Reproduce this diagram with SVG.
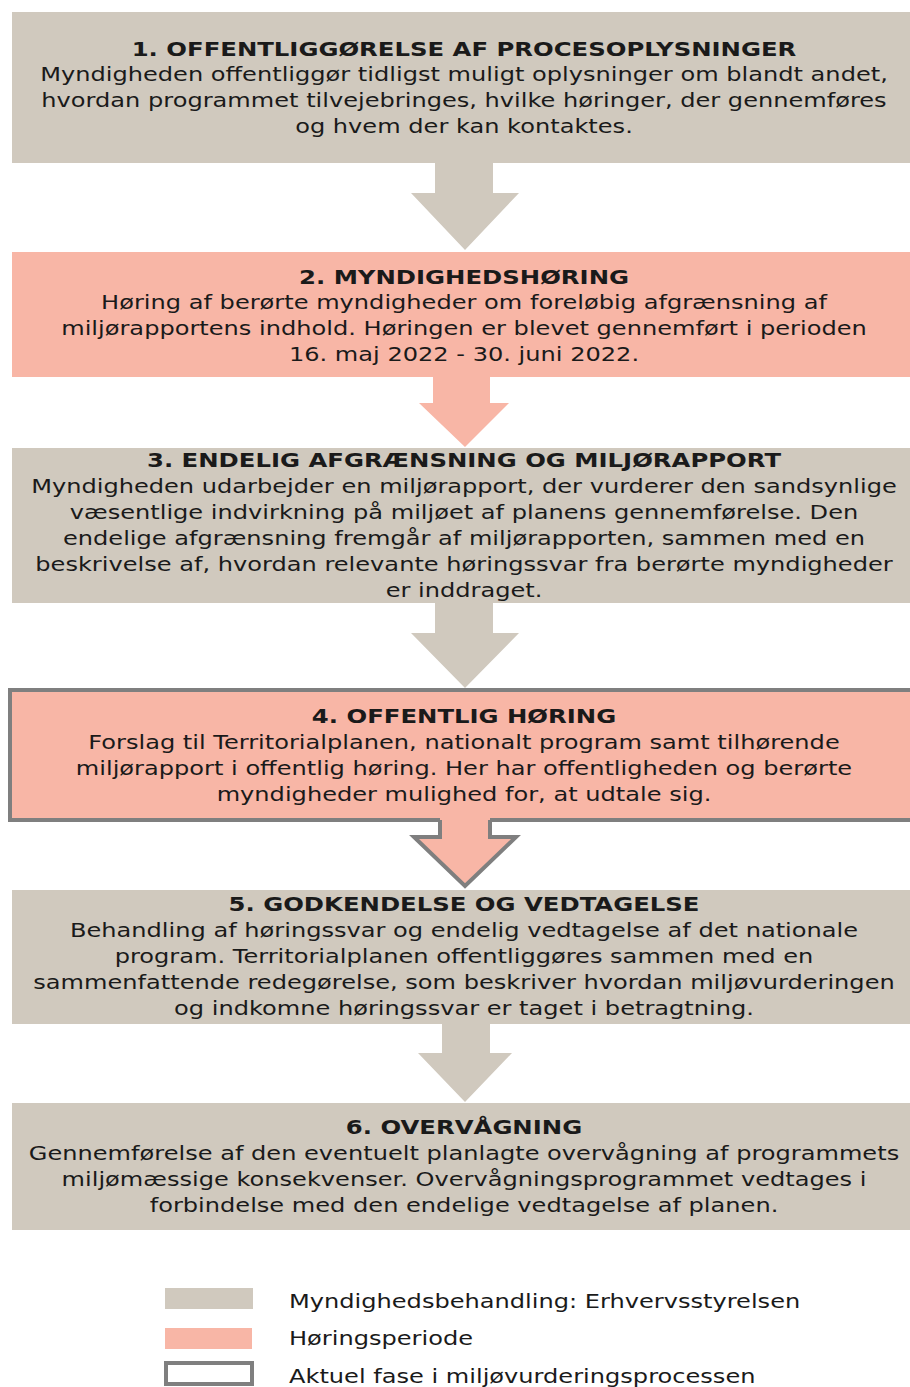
<svg xmlns="http://www.w3.org/2000/svg" width="910" height="1387" viewBox="0 0 910 1387">
<style>
.g{fill:#D0C9BE}
.s{fill:#F8B6A6}
.t{font-family:"DejaVu Sans","Liberation Sans",sans-serif;font-size:20px;fill:#1a1a1a;text-anchor:middle}
.b{font-weight:bold}
.l{font-family:"DejaVu Sans","Liberation Sans",sans-serif;font-size:20px;fill:#1a1a1a}
</style>
<defs>
</defs>
<rect width="910" height="1387" fill="#fff"/>
<g id="connectors">
<polygon class="g" points="435,163 493,163 493,193 519,193 465,250 411,193 435,193"/>
<polygon class="s" points="433,377 490,377 490,403 509,403 465,447 419,403 433,403"/>
<polygon class="g" points="435,603 493,603 493,633 519,633 465,688 411,633 435,633"/>
<polygon class="g" points="442,1024 490,1024 490,1053 512,1053 465,1102 418,1053 442,1053"/>
</g>
<g id="n1">
<rect class="g" x="12" y="12" width="898" height="151"/>
<text class="t b" transform="matrix(1.218 0 0 1 -101.15 0)" x="464" y="56">1. OFFENTLIGGØRELSE AF PROCESOPLYSNINGER</text>
<g transform="matrix(1.205 0 0 1 -95.12 0)">
<text class="t" x="464" y="81">Myndigheden offentliggør tidligst muligt oplysninger om blandt andet,</text>
<text class="t" x="464" y="107">hvordan programmet tilvejebringes, hvilke høringer, der gennemføres</text>
<text class="t" x="464" y="133">og hvem der kan kontaktes.</text>
</g>
</g>
<g id="n2">
<rect class="s" x="12" y="252" width="898" height="125"/>
<text class="t b" transform="matrix(1.218 0 0 1 -101.15 0)" x="464" y="284">2. MYNDIGHEDSHØRING</text>
<g transform="matrix(1.205 0 0 1 -95.12 0)">
<text class="t" x="464" y="309">Høring af berørte myndigheder om foreløbig afgrænsning af</text>
<text class="t" x="464" y="335">miljørapportens indhold. Høringen er blevet gennemført i perioden</text>
<text class="t" x="464" y="361">16. maj 2022 - 30. juni 2022.</text>
</g>
</g>
<g id="n3">
<rect class="g" x="12" y="448" width="898" height="155"/>
<text class="t b" transform="matrix(1.218 0 0 1 -101.15 0)" x="464" y="467">3. ENDELIG AFGRÆNSNING OG MILJØRAPPORT</text>
<g transform="matrix(1.205 0 0 1 -95.12 0)">
<text class="t" x="464" y="493">Myndigheden udarbejder en miljørapport, der vurderer den sandsynlige</text>
<text class="t" x="464" y="519">væsentlige indvirkning på miljøet af planens gennemførelse. Den</text>
<text class="t" x="464" y="545">endelige afgrænsning fremgår af miljørapporten, sammen med en</text>
<text class="t" x="464" y="571">beskrivelse af, hvordan relevante høringssvar fra berørte myndigheder</text>
<text class="t" x="464" y="597">er inddraget.</text>
</g>
</g>
<g id="n4">
<rect class="s" x="10" y="690" width="904" height="130" stroke="#7F7F7F" stroke-width="4"/>
<polygon class="s" points="440,818 490,818 490,837 516,837 465,886 414,837 440,837"/>
<polyline points="440,820 440,837 414,837 465,886 516,837 490,837 490,820" fill="none" stroke="#7F7F7F" stroke-width="4" stroke-linejoin="miter"/>
<text class="t b" transform="matrix(1.218 0 0 1 -101.15 0)" x="464" y="723">4. OFFENTLIG HØRING</text>
<g transform="matrix(1.205 0 0 1 -95.12 0)">
<text class="t" x="464" y="749">Forslag til Territorialplanen, nationalt program samt tilhørende</text>
<text class="t" x="464" y="775">miljørapport i offentlig høring. Her har offentligheden og berørte</text>
<text class="t" x="464" y="801">myndigheder mulighed for, at udtale sig.</text>
</g>
</g>
<g id="n5">
<rect class="g" x="12" y="890" width="898" height="134"/>
<text class="t b" transform="matrix(1.218 0 0 1 -101.15 0)" x="464" y="911">5. GODKENDELSE OG VEDTAGELSE</text>
<g transform="matrix(1.205 0 0 1 -95.12 0)">
<text class="t" x="464" y="937">Behandling af høringssvar og endelig vedtagelse af det nationale</text>
<text class="t" x="464" y="963">program. Territorialplanen offentliggøres sammen med en</text>
<text class="t" x="464" y="989">sammenfattende redegørelse, som beskriver hvordan miljøvurderingen</text>
<text class="t" x="464" y="1015">og indkomne høringssvar er taget i betragtning.</text>
</g>
</g>
<g id="n6">
<rect class="g" x="12" y="1103" width="898" height="127"/>
<text class="t b" transform="matrix(1.218 0 0 1 -101.15 0)" x="464" y="1134">6. OVERVÅGNING</text>
<g transform="matrix(1.205 0 0 1 -95.12 0)">
<text class="t" x="464" y="1160">Gennemførelse af den eventuelt planlagte overvågning af programmets</text>
<text class="t" x="464" y="1186">miljømæssige konsekvenser. Overvågningsprogrammet vedtages i</text>
<text class="t" x="464" y="1212">forbindelse med den endelige vedtagelse af planen.</text>
</g>
</g>
<g id="legend">
<rect class="g" x="165" y="1288" width="88" height="21"/>
<rect class="s" x="165" y="1328" width="87" height="21"/>
<rect x="166" y="1363" width="86" height="21" fill="#fff" stroke="#7F7F7F" stroke-width="4"/>
<g transform="matrix(1.205 0 0 1 -59.25 0)">
<text class="l" x="289" y="1308">Myndighedsbehandling: Erhvervsstyrelsen</text>
<text class="l" x="289" y="1345">Høringsperiode</text>
<text class="l" x="289" y="1383">Aktuel fase i miljøvurderingsprocessen</text>
</g>
</g>
</svg>
